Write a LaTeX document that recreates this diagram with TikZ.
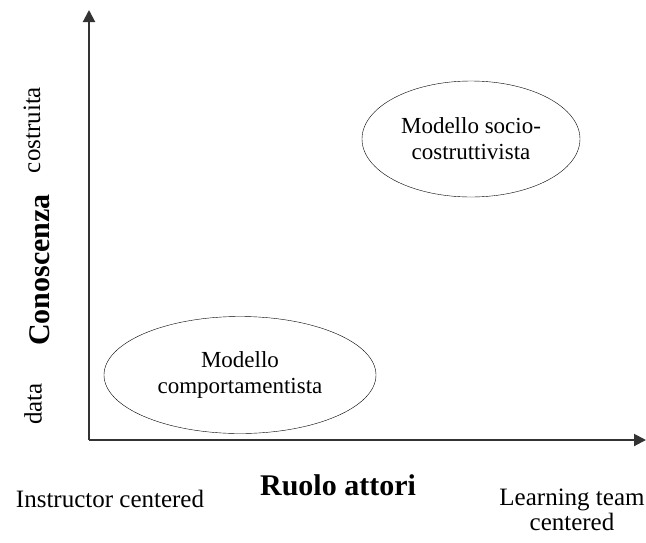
\documentclass[tikz,border=0pt]{standalone}
\usepackage{fontspec}
\setmainfont{Liberation Serif}
\usetikzlibrary{positioning, arrows.meta, shapes}

\begin{document}
\begin{tikzpicture}[x=1pt, y=-1pt,
    axis/.style={line width=2pt, black!80, -{Triangle[length=12pt, width=12pt]}},
    model/.style={ellipse, draw, thin, align=center, font=\fontsize{23}{26}\selectfont},
    lbl/.style={font=\fontsize{25}{25}\selectfont, align=center},
    title/.style={font=\fontsize{30}{32}\selectfont\bfseries}]
            \useasboundingbox (0,0) rectangle (646,542);
            % Axes
            \coordinate (O) at (89,440);
            \coordinate (Ytop) at (89,10);
            \coordinate (Xend) at (646,440);
            \draw[axis] (O) -- (Ytop);
            \draw[axis] (O) -- (Xend);

            % Models
            \node[model, minimum width=272pt, minimum height=117pt] (comp) at (240,375) {Modello\\comportamentista};
            \node[model, minimum width=218pt, minimum height=116pt] (socio) at (471,139) {Modello socio-\\costruttivista};

            % Vertical labels
            \node[lbl, rotate=90] (costr) at (32,130) {costruita};
            \node[title, rotate=90] (conosc) at (40,270) {Conoscenza};
            \node[lbl, rotate=90] (data) at (33,404) {data};

            % Horizontal labels
            \node[lbl] (instr) at (110,499) {Instructor centered};
            \node[title] (ruolo) at (338,485) {Ruolo attori};
            \node[lbl] (learn) at (572,510) {Learning team\\centered};
\end{tikzpicture}
\end{document}
